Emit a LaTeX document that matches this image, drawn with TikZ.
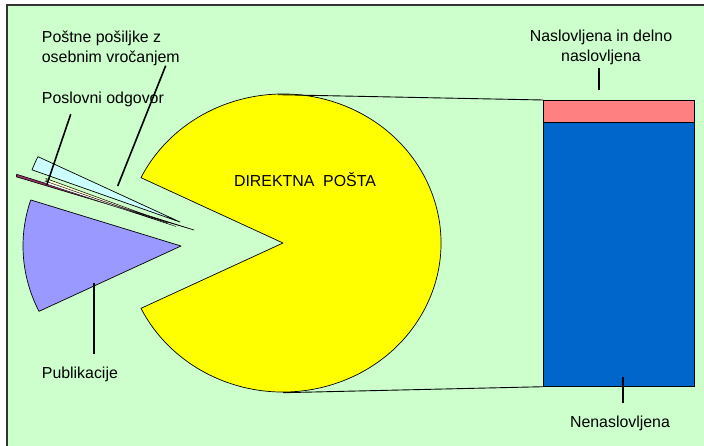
\documentclass[tikz,border=0pt]{standalone}
\usepackage{fontspec}
\setmainfont{Liberation Sans}
\definecolor{bggreen}{HTML}{CCFFCC}
\definecolor{frame}{HTML}{333333}
\definecolor{pieyellow}{HTML}{FFFF00}
\definecolor{piepurple}{HTML}{9999FF}
\definecolor{piecyan}{HTML}{CCFFFF}
\definecolor{piemaroon}{HTML}{993366}
\definecolor{piecream}{HTML}{FFFFCC}
\definecolor{barpink}{HTML}{FF8080}
\definecolor{barblue}{HTML}{0066CC}
\begin{document}
\begin{tikzpicture}[x=1pt,y=-1pt,
  lbl/.style={font=\fontsize{15.9}{19.7}\selectfont, inner sep=0pt, text=black},
  leader/.style={line width=1.6pt, black},
  slice/.style={draw=black, line width=0.7pt, line join=round},
  link/.style={line width=0.9pt, black}]
\useasboundingbox (0,0) rectangle (704,445);
\clip (0,0) rectangle (704,445);
% background and frame
\fill[bggreen] (7,5) rectangle (712,452);
\draw[frame, line width=2pt] (7,452) -- (7,5) -- (712,5);
% pie slices
\coordinate (yc) at (283,243);
\filldraw[slice, fill=pieyellow] (yc) -- ++(-154:158 and 149)
  arc[start angle=-154, end angle=154, x radius=158, y radius=149] -- cycle;
\coordinate (pc) at (181,246);
\filldraw[slice, fill=piepurple] (pc) -- ++(154:158 and 149)
  arc[start angle=154, end angle=198, x radius=158, y radius=149] -- cycle;
\coordinate (cc) at (180,222);
\filldraw[slice, fill=piecyan] (cc) -- ++(200.5:158 and 149)
  arc[start angle=200.5, end angle=206, x radius=158, y radius=149] -- cycle;
\coordinate (mc) at (194,230);
\coordinate (m1) at (16.7,174.3);
\coordinate (m2) at (16.3,176.8);
\filldraw[draw=black, line width=0.6pt, fill=piemaroon] (mc) -- (m1) -- (m2) -- cycle;
\coordinate (kc) at (168,223);
\coordinate (k1) at (46,178.5);
\coordinate (k2) at (46.5,182.5);
\filldraw[draw=black, line width=0.5pt, fill=piecream] (kc) -- (k1) -- (k2) -- cycle;
\coordinate (tc) at (176,226.5);
\coordinate (t1) at (45,181);
\coordinate (t2) at (45,183.5);
\filldraw[draw=black, line width=0.4pt, fill=white] (tc) -- (t1) -- (t2) -- cycle;
% bar
\filldraw[draw=black, line width=0.7pt, fill=barpink] (543.3,100) rectangle (694.3,122.7);
\filldraw[draw=black, line width=0.7pt, fill=barblue] (543.3,122.7) rectangle (694.3,386.7);
\coordinate (pietop) at (278,94.7);
\coordinate (piebot) at (283,392.7);
\coordinate (bartop) at (543.3,100);
\coordinate (barbot) at (543.3,386.7);
\draw[link] (pietop) -- (bartop);
\draw[link] (piebot) -- (barbot);
% labels
\node[lbl, anchor=base west] (l1a) at (41.7,42.3) {Poštne pošiljke z};
\node[lbl, anchor=base west] (l1b) at (41.7,62) {osebnim vročanjem};
\node[lbl, anchor=base west] (l2) at (41.7,103.3) {Poslovni odgovor};
\node[lbl, anchor=base west] (l3) at (41.7,378.3) {Publikacije};
\node[lbl, anchor=base] (l4a) at (601,41.7) {Naslovljena in delno};
\node[lbl, anchor=base] (l4b) at (601,61.7) {naslovljena};
\node[lbl, anchor=base] (l5) at (620,427.3) {Nenaslovljena};
\node[lbl, anchor=base] (l6) at (305,186.7) {DIREKTNA\ \ POŠTA};
% leaders
\coordinate (a1) at (165.7,65.7); \coordinate (b1) at (117.7,186);
\coordinate (a2) at (70.7,114.3); \coordinate (b2) at (46.7,185);
\coordinate (a3) at (94,354);     \coordinate (b3) at (94,283);
\coordinate (a4) at (598.7,68);   \coordinate (b4) at (598.7,90);
\coordinate (a5) at (622.7,402.7); \coordinate (b5) at (622.7,377);
\draw[leader] (a1) -- (b1);
\draw[leader] (a2) -- (b2);
\draw[leader] (a3) -- (b3);
\draw[leader] (a4) -- (b4);
\draw[leader] (a5) -- (b5);
\end{tikzpicture}
\end{document}
